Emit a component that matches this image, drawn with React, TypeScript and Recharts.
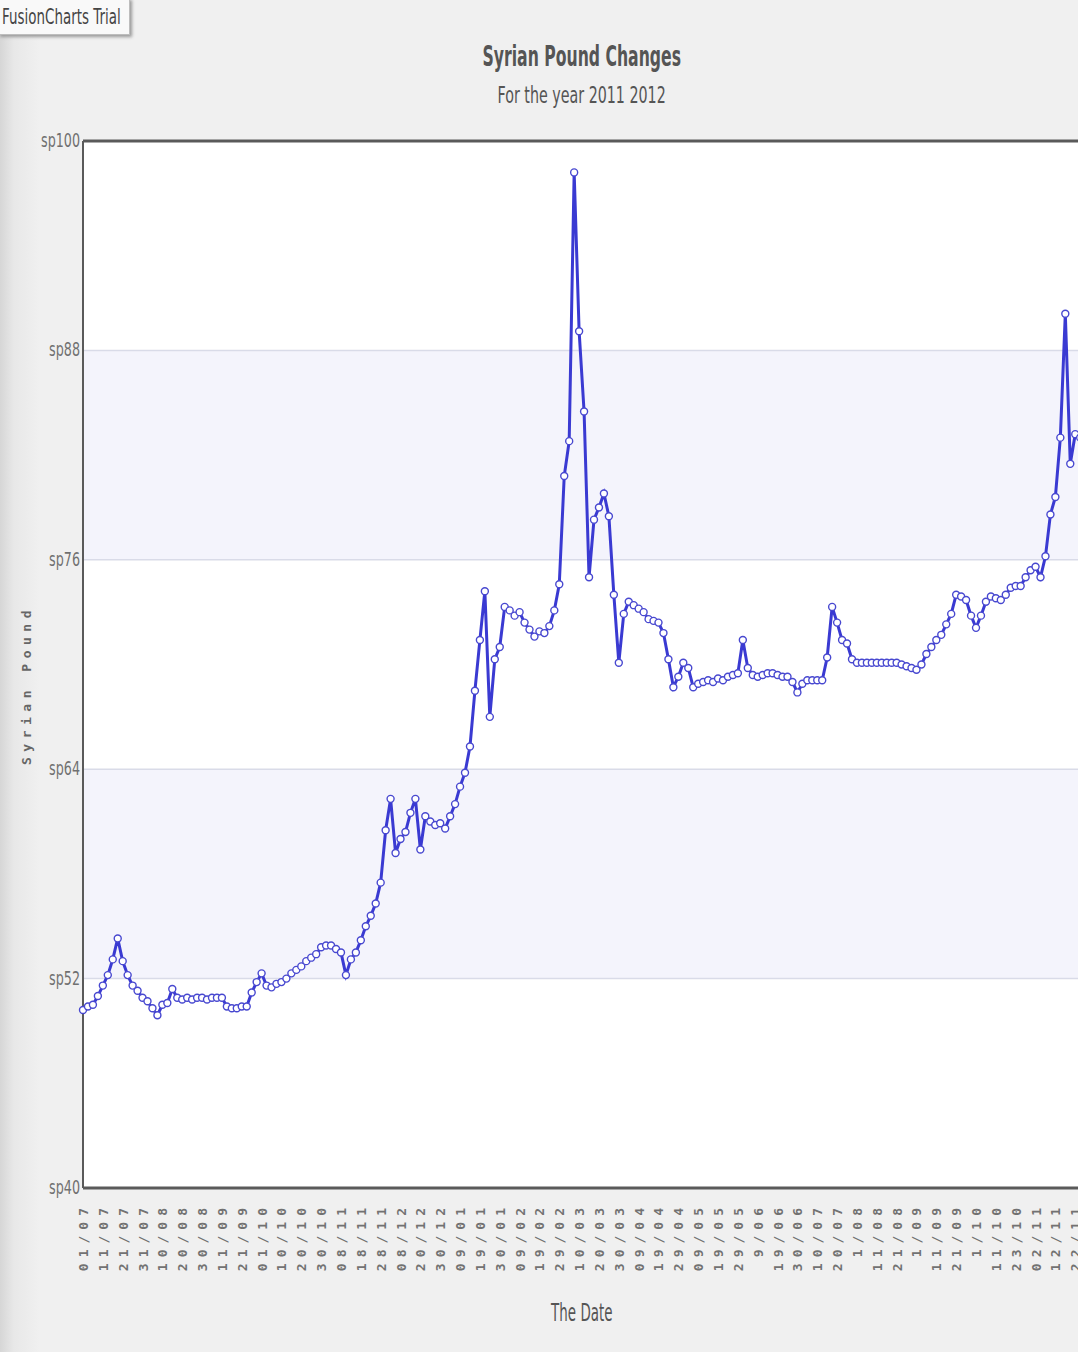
import React from 'react';
import { LineChart, Line, XAxis, YAxis, CartesianGrid, ReferenceArea, ReferenceLine } from 'recharts';

// tick labels along the date axis (one every 4 points)
const dateLabels = [
  '01/07', '11/07', '21/07', '31/07', '10/08', '20/08', '30/08', '11/09', '21/09', '01/10',
  '10/10', '20/10', '30/10', '08/11', '18/11', '28/11', '08/12', '20/12', '30/12', '09/01',
  '19/01', '30/01', '09/02', '19/02', '29/02', '10/03', '20/03', '30/03', '09/04', '19/04',
  '29/04', '09/05', '19/05', '29/05', '9/06', '19/06', '30/06', '10/07', '20/07', '1/08',
  '11/08', '21/08', '1/09', '11/09', '21/09', '1/10', '11/10', '23/10', '02/11', '12/11', '22/11',
];

// price of one dollar in syrian pounds
const poundValues = [
  50.2, 50.4, 50.5, 51.0, 51.6, 52.2, 53.1, 54.3, 53.0, 52.2,
  51.6, 51.3, 50.9, 50.7, 50.3, 49.9, 50.5, 50.6, 51.4, 50.9,
  50.8, 50.9, 50.8, 50.9, 50.9, 50.8, 50.9, 50.9, 50.9, 50.4,
  50.3, 50.3, 50.4, 50.4, 51.2, 51.8, 52.3, 51.6, 51.5, 51.7,
  51.8, 52.0, 52.3, 52.5, 52.7, 53.0, 53.2, 53.4, 53.8, 53.9,
  53.9, 53.7, 53.5, 52.2, 53.1, 53.5, 54.2, 55.0, 55.6, 56.3,
  57.5, 60.5, 62.3, 59.2, 60.0, 60.4, 61.5, 62.3, 59.4, 61.3,
  61.0, 60.8, 60.9, 60.6, 61.3, 62.0, 63.0, 63.8, 65.3, 68.5,
  71.4, 74.2, 67.0, 70.3, 71.0, 73.3, 73.1, 72.8, 73.0, 72.4,
  72.0, 71.6, 71.9, 71.8, 72.2, 73.1, 74.6, 80.8, 82.8, 98.2,
  89.1, 84.5, 75.0, 78.3, 79.0, 79.8, 78.5, 74.0, 70.1, 72.9,
  73.6, 73.4, 73.2, 73.0, 72.6, 72.5, 72.4, 71.8, 70.3, 68.7,
  69.3, 70.1, 69.8, 68.7, 68.9, 69.0, 69.1, 69.0, 69.2, 69.1,
  69.3, 69.4, 69.5, 71.4, 69.8, 69.4, 69.3, 69.4, 69.5, 69.5,
  69.4, 69.3, 69.3, 69.0, 68.4, 68.9, 69.1, 69.1, 69.1, 69.1,
  70.4, 73.3, 72.4, 71.4, 71.2, 70.3, 70.1, 70.1, 70.1, 70.1,
  70.1, 70.1, 70.1, 70.1, 70.1, 70.0, 69.9, 69.8, 69.7, 70.0,
  70.6, 71.0, 71.4, 71.7, 72.3, 72.9, 74.0, 73.9, 73.7, 72.8,
  72.1, 72.8, 73.6, 73.9, 73.8, 73.7, 74.0, 74.4, 74.5, 74.5,
  75.0, 75.4, 75.6, 75.0, 76.2, 78.6, 79.6, 83.0, 90.1, 81.5,
  83.2, 83.0, 82.9,
];

const yTicks = [40, 52, 64, 76, 88, 100];
const STEP = 4;

const sans = '"DejaVu Sans", sans-serif';
const mono = '"DejaVu Sans Mono", "Liberation Mono", monospace';

const data = poundValues.map((v, i) => ({ i, v }));
const xTicks = dateLabels.map((_, k) => k * STEP);

const DateTick = (props: any) => {
  const { x, y, payload } = props;
  const label = dateLabels[Math.round(payload.value / STEP)];
  const ax = x + 5;
  const ay = y + 6;
  return (
    <text
      x={ax}
      y={ay}
      transform={`rotate(-90 ${ax} ${ay})`}
      textAnchor="end"
      fill="#727272"
      fontSize={13}
      fontWeight="bold"
      fontFamily={mono}
      style={{ letterSpacing: '6px' }}
    >
      {label}
    </text>
  );
};

// the original text is squeezed sideways, so scale it
const PoundTick = (props: any) => {
  const { x, y, payload } = props;
  return (
    <text
      transform={`translate(${x - 3} ${y + 6}) scale(0.67 1)`}
      textAnchor="end"
      fill="#707070"
      fontSize={19}
      fontFamily={sans}
    >
      {`sp${payload.value}`}
    </text>
  );
};

const squeezed = (sx: number): React.CSSProperties => ({
  transform: `scaleX(${sx})`,
  transformOrigin: 'center',
});

export default function App() {
  return (
    <div
      style={{
        position: 'absolute',
        left: 0,
        top: 0,
        width: 1078,
        height: 1352,
        overflow: 'hidden',
        background: 'linear-gradient(to right, #d6d6d6 0px, #e8e8e8 14px, #f0f0f0 40px, #f0f0f0 100%)',
        fontFamily: sans,
      }}
    >
      <div
        style={{
          position: 'absolute', left: -2, top: -2, width: 132, height: 37,
          background: '#f9f9f9', border: '1px solid #bdbdbd',
          boxShadow: '2px 2px 3px #9a9a9a', boxSizing: 'border-box', overflow: 'hidden',
        }}
      >
        <div
          style={{
            position: 'absolute', left: 3, top: 5, whiteSpace: 'nowrap',
            color: '#454545', fontSize: 21, lineHeight: '26px',
            transform: 'scaleX(0.64)', transformOrigin: 'left center',
          }}
        >
          FusionCharts Trial
        </div>
      </div>
      <div style={{ position: 'absolute', left: 0, width: 1164, top: 39, textAlign: 'center' }}>
        <span style={{ display: 'inline-block', fontSize: 29, fontWeight: 'bold', color: '#555', ...squeezed(0.54) }}>
          Syrian Pound Changes
        </span>
      </div>
      <div style={{ position: 'absolute', left: 0, width: 1164, top: 82, textAlign: 'center' }}>
        <span style={{ display: 'inline-block', fontSize: 23, color: '#555', ...squeezed(0.62) }}>
          For the year 2011 2012
        </span>
      </div>
      <div style={{ position: 'absolute', left: 0, width: 1164, top: 1299, textAlign: 'center' }}>
        <span style={{ display: 'inline-block', fontSize: 24, color: '#555', ...squeezed(0.56) }}>
          The Date
        </span>
      </div>
      <div
        style={{
          position: 'absolute', left: 26, top: 685, transform: 'translate(-50%, -50%) rotate(-90deg)',
          whiteSpace: 'nowrap', fontFamily: mono, fontWeight: 'bold', fontSize: 13, letterSpacing: '5.5px', color: '#666',
        }}
      >
        Syrian Pound
      </div>
      <div style={{ position: 'absolute', left: 0, top: 0 }}>
        <LineChart width={1105} height={1352} data={data} margin={{ top: 141, right: 0, bottom: 64, left: 0 }}>
          <CartesianGrid fill="#ffffff" horizontal={false} vertical={false} />
          <ReferenceArea y1={52} y2={64} fill="#f4f4fc" fillOpacity={1} stroke="none" />
          <ReferenceArea y1={76} y2={88} fill="#f4f4fc" fillOpacity={1} stroke="none" />
          {[52, 64, 76, 88].map((v) => (
            <ReferenceLine key={v} y={v} stroke="#d9dbe8" strokeWidth={1.5} />
          ))}
          <ReferenceLine y={100} stroke="#5a5a5a" strokeWidth={3} />
          <XAxis
            type="number"
            dataKey="i"
            domain={[0, 206]}
            ticks={xTicks}
            interval={0}
            height={100}
            tickLine={false}
            axisLine={{ stroke: '#5a5a5a', strokeWidth: 3 }}
            tick={<DateTick />}
          />
          <YAxis
            type="number"
            domain={[40, 100]}
            ticks={yTicks}
            width={83}
            tickLine={false}
            tickSize={0}
            tickMargin={0}
            axisLine={{ stroke: '#5a5a5a', strokeWidth: 2 }}
            tick={<PoundTick />}
          />
          <Line
            type="linear"
            dataKey="v"
            stroke="#3a3ad2"
            strokeWidth={3}
            dot={{ r: 3.5, fill: '#ffffff', stroke: '#4848d0', strokeWidth: 1.4 }}
            isAnimationActive={false}
          />
        </LineChart>
      </div>
    </div>
  );
}
